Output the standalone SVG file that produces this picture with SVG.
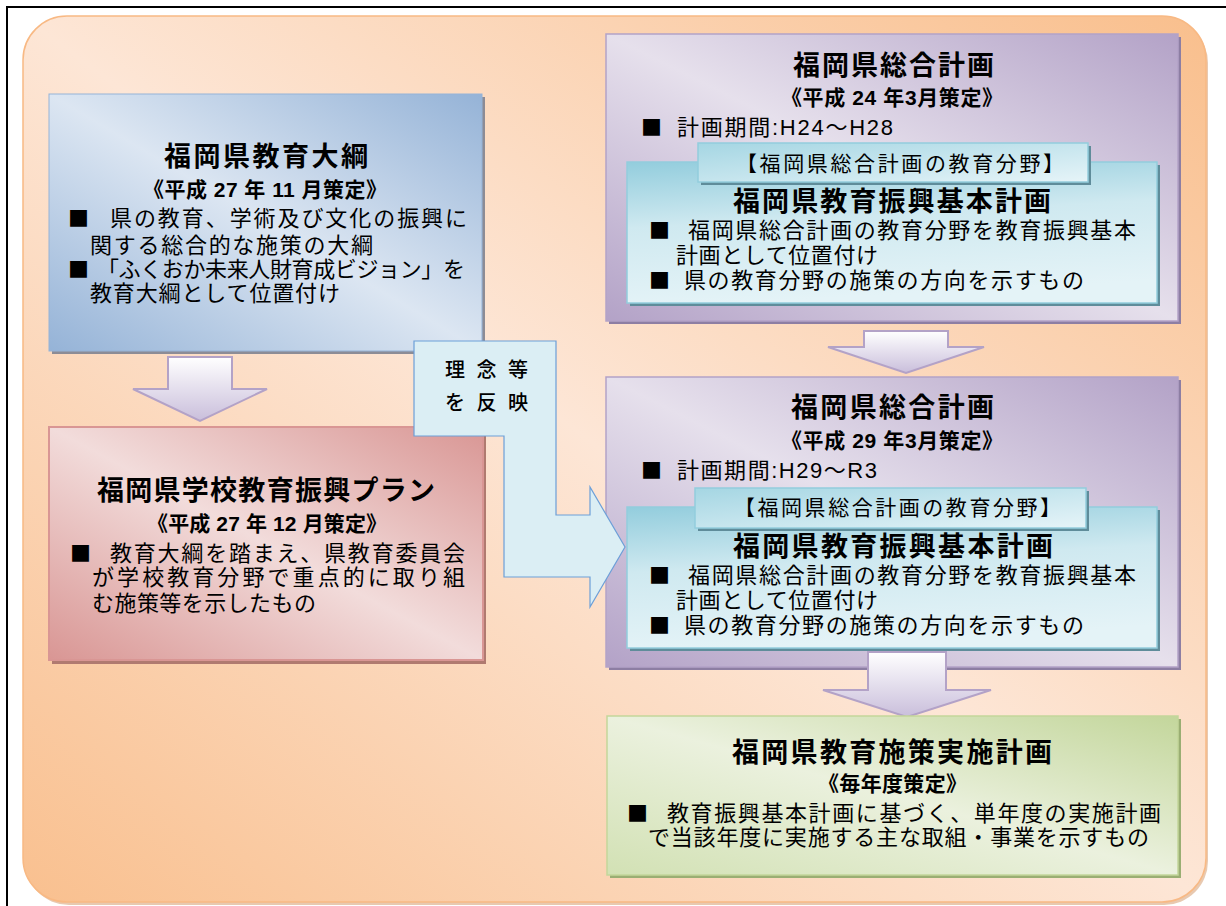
<svg xmlns="http://www.w3.org/2000/svg" width="1226" height="906" viewBox="0 0 1226 906">
<defs>
<style>
.t{font-family:"Liberation Sans","Noto Sans CJK JP",sans-serif;fill:#000}
.sq{font-family:"Noto Sans CJK JP",sans-serif;font-size:21px;fill:#000}
.ti{font-size:27px;font-weight:bold}
.su{font-size:21px;font-weight:bold}
.bo{font-size:22px}
.tb{font-size:21px}
.rf{font-size:20px;font-weight:500}
.arr{fill:url(#gArr);stroke:#b3a2c7;stroke-width:2;stroke-linejoin:miter}
</style>
<linearGradient id="gBg" x1="1" y1="0" x2="0" y2="1">
<stop offset="0" stop-color="#f9bf8d"/><stop offset="0.5" stop-color="#fde6d6"/><stop offset="1" stop-color="#f9c08f"/>
</linearGradient>
<linearGradient id="gBlue" x1="1" y1="0" x2="0" y2="1">
<stop offset="0" stop-color="#95b3d7"/><stop offset="0.5" stop-color="#dce6f2"/><stop offset="1" stop-color="#95b3d7"/>
</linearGradient>
<linearGradient id="gPink" x1="1" y1="0" x2="0" y2="1">
<stop offset="0" stop-color="#d99694"/><stop offset="0.5" stop-color="#f2dcdb"/><stop offset="1" stop-color="#d99694"/>
</linearGradient>
<linearGradient id="gPurp" x1="1" y1="0" x2="0" y2="1">
<stop offset="0" stop-color="#b3a2c7"/><stop offset="0.5" stop-color="#e6e0ec"/><stop offset="1" stop-color="#b3a2c7"/>
</linearGradient>
<linearGradient id="gGreen" x1="1" y1="0" x2="0" y2="1">
<stop offset="0" stop-color="#c3d69b"/><stop offset="0.5" stop-color="#ebf1de"/><stop offset="1" stop-color="#d2e1b4"/>
</linearGradient>
<linearGradient id="gTeal" x1="0" y1="0" x2="0.2" y2="1">
<stop offset="0" stop-color="#93cddd"/><stop offset="0.45" stop-color="#cfe9f0"/><stop offset="1" stop-color="#e4f3f7"/>
</linearGradient>
<linearGradient id="gTab" x1="0" y1="0" x2="1" y2="1">
<stop offset="0" stop-color="#a5d6e3"/><stop offset="1" stop-color="#e6f4f8"/>
</linearGradient>
<linearGradient id="gArr" x1="0" y1="0" x2="0" y2="1">
<stop offset="0" stop-color="#ffffff"/><stop offset="1" stop-color="#c9bedb"/>
</linearGradient>
</defs>

<rect x="7" y="7" width="1240" height="920" fill="#fff" stroke="#000" stroke-width="2"/>

<g id="background">
<rect x="25" y="19" width="1183" height="886" rx="44" fill="#d8a57c" opacity="0.6"/>
<rect x="23" y="16" width="1183" height="886" rx="44" fill="url(#gBg)" stroke="#f8b984" stroke-width="1.5"/>
</g>

<g id="connectors">
<polygon class="arr" points="168,357 232,357 232,389 267,389 200,421 133,389 168,389"/>
<polygon class="arr" points="864,331 948,331 948,347 984,347 906,373 828,347 864,347"/>
</g>

<g id="node-taiko">
<rect x="52" y="97" width="433" height="257" fill="#8c8c96"/>
<rect x="49" y="94" width="433" height="257" fill="url(#gBlue)" stroke="#95b3d7" stroke-width="1"/>
<text class="t ti" x="164" y="166" textLength="204">福岡県教育大綱</text>
<text class="t su" x="143" y="197" textLength="244">《平成 27 年 11 月策定》</text>
<text class="sq" x="68" y="226">■</text>
<text class="t bo" x="110" y="226" textLength="357">県の教育、学術及び文化の振興に</text>
<text class="t bo" x="90" y="253" textLength="283">関する総合的な施策の大綱</text>
<text class="sq" x="68" y="277">■</text>
<text class="t bo" x="97" y="277" textLength="368">「ふくおか未来人財育成ビジョン」を</text>
<text class="t bo" x="90" y="301" textLength="250">教育大綱として位置付け</text>
</g>

<g id="node-plan">
<rect x="52" y="431" width="434" height="233" fill="#b07a70"/>
<rect x="49" y="427" width="434" height="233" fill="url(#gPink)" stroke="#d99694" stroke-width="2"/>
<text class="t ti" x="97" y="500" textLength="338">福岡県学校教育振興プラン</text>
<text class="t su" x="147" y="531" textLength="240">《平成 27 年 12 月策定》</text>
<text class="sq" x="70" y="561">■</text>
<text class="t bo" x="110" y="561" textLength="355">教育大綱を踏まえ、県教育委員会</text>
<text class="t bo" x="92" y="585" textLength="373">が学校教育分野で重点的に取り組</text>
<text class="t bo" x="92" y="611" textLength="224">む施策等を示したもの</text>
</g>

<g id="node-sogo1">
<rect x="609" y="37" width="572" height="287" fill="#8d7ea3"/>
<rect x="606" y="34" width="572" height="287" fill="url(#gPurp)" stroke="#b3a2c7" stroke-width="1.5"/>
<text class="t ti" x="793" y="75" textLength="201">福岡県総合計画</text>
<text class="t su" x="781" y="105" textLength="222">《平成 24 年3月策定》</text>
<text class="sq" x="641" y="135">■</text>
<text class="t bo" x="677" y="135" textLength="216">計画期間:H24～H28</text>
<rect x="630" y="165" width="530" height="141" fill="#5f8c9a"/>
<rect x="627" y="162" width="530" height="141" fill="url(#gTeal)" stroke="#93cddd" stroke-width="1.5"/>
<rect x="701" y="146" width="390" height="39" fill="#5f8c9a"/>
<rect x="698" y="143" width="390" height="39" fill="url(#gTab)" stroke="#93cddd" stroke-width="1.5"/>
<text class="t tb" x="736" y="171" textLength="328">【福岡県総合計画の教育分野】</text>
<text class="t ti" x="733" y="211" textLength="318">福岡県教育振興基本計画</text>
<text class="sq" x="649" y="238">■</text>
<text class="t bo" x="688" y="238" textLength="448">福岡県総合計画の教育分野を教育振興基本</text>
<text class="t bo" x="676" y="263" textLength="202">計画として位置付け</text>
<text class="sq" x="649" y="288">■</text>
<text class="t bo" x="684" y="288" textLength="400">県の教育分野の施策の方向を示すもの</text>
</g>

<g id="node-sogo2">
<rect x="609" y="380" width="572" height="290" fill="#8d7ea3"/>
<rect x="606" y="377" width="572" height="290" fill="url(#gPurp)" stroke="#b3a2c7" stroke-width="1.5"/>
<text class="t ti" x="791" y="417" textLength="203">福岡県総合計画</text>
<text class="t su" x="781" y="448" textLength="222">《平成 29 年3月策定》</text>
<text class="sq" x="641" y="478">■</text>
<text class="t bo" x="677" y="478" textLength="200">計画期間:H29～R3</text>
<rect x="630" y="510" width="530" height="141" fill="#5f8c9a"/>
<rect x="627" y="507" width="530" height="141" fill="url(#gTeal)" stroke="#93cddd" stroke-width="1.5"/>
<rect x="698" y="491" width="391" height="40" fill="#5f8c9a"/>
<rect x="695" y="488" width="391" height="40" fill="url(#gTab)" stroke="#93cddd" stroke-width="1.5"/>
<text class="t tb" x="734" y="515" textLength="327">【福岡県総合計画の教育分野】</text>
<text class="t ti" x="733" y="556" textLength="320">福岡県教育振興基本計画</text>
<text class="sq" x="649" y="583">■</text>
<text class="t bo" x="688" y="583" textLength="448">福岡県総合計画の教育分野を教育振興基本</text>
<text class="t bo" x="676" y="608" textLength="202">計画として位置付け</text>
<text class="sq" x="649" y="633">■</text>
<text class="t bo" x="684" y="633" textLength="400">県の教育分野の施策の方向を示すもの</text>
</g>

<g id="connector-3">
<polygon class="arr" points="868,652 946,652 946,690 991,690 907,717 823,690 868,690"/>
</g>

<g id="node-jisshi">
<rect x="610" y="719" width="571" height="159" fill="#9aae73"/>
<rect x="607" y="716" width="571" height="159" fill="url(#gGreen)" stroke="#c3d69b" stroke-width="1.5"/>
<text class="t ti" x="732" y="762" textLength="320">福岡県教育施策実施計画</text>
<text class="t su" x="818" y="791" textLength="149">《毎年度策定》</text>
<text class="sq" x="627" y="821">■</text>
<text class="t bo" x="667" y="821" textLength="494">教育振興基本計画に基づく、単年度の実施計画</text>
<text class="t bo" x="648" y="845" textLength="501">で当該年度に実施する主な取組・事業を示すもの</text>
</g>

<g id="connector-reflect">
<polygon points="414,341 556,341 556,515 590,515 590,487 625,547 590,607 590,577 504,577 504,436 414,436" fill="#dbeef4" stroke="#6c9fd8" stroke-width="1.2"/>
<text class="t rf" x="445" y="377" textLength="83">理念等</text>
<text class="t rf" x="445" y="410" textLength="83">を反映</text>
</g>
</svg>
